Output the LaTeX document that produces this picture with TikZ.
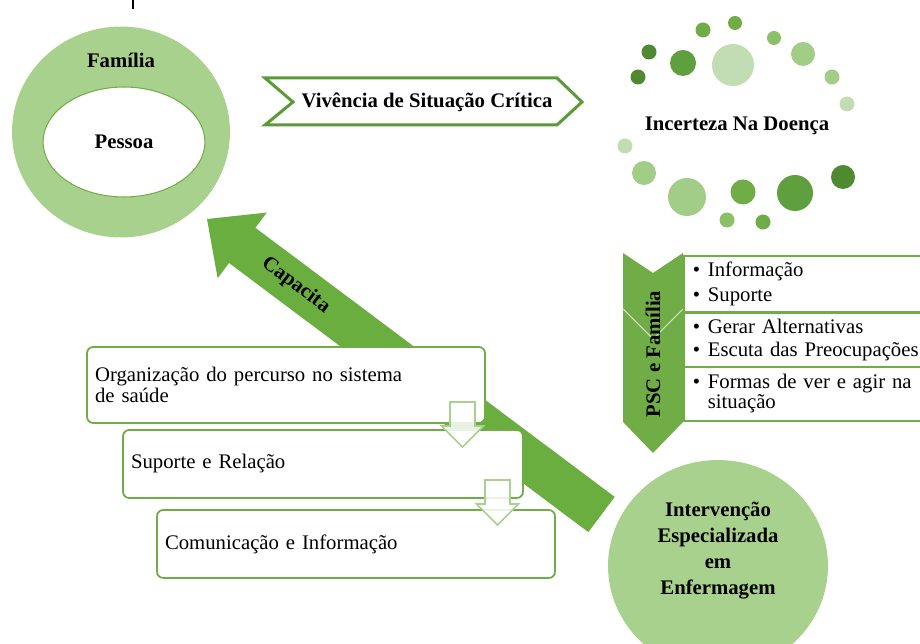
\documentclass[tikz,border=0pt]{standalone}
\usepackage{fontspec}
\setmainfont{Liberation Serif}
\usetikzlibrary{calc,shapes.geometric}

\definecolor{leafmid}{HTML}{70AD47}
\definecolor{leaflight}{HTML}{A9D18E}
\definecolor{chevgreen}{HTML}{5B9A37}
\definecolor{capgreen}{HTML}{6AAE3F}
\definecolor{dotdark}{HTML}{4F8A30}
\definecolor{dotdeep}{HTML}{5F9F3D}
\definecolor{dotmid}{HTML}{70AD47}
\definecolor{dotsoft}{HTML}{8BC069}
\definecolor{dotlight}{HTML}{A2CD87}
\definecolor{dotpale}{HTML}{C2DDB3}

\newcommand{\pscitem}[1]{\makebox[8.6pt][l]{\textbullet}#1}

\tikzset{
  headtxt/.style={font=\fontsize{11.8}{14.8}\selectfont\bfseries, inner sep=0pt},
  bodytxt/.style={font=\fontsize{11.8}{10.4}\selectfont},
  stepbox/.style={draw=leafmid, line width=1pt, fill=white, rounded corners=3.5pt,
    bodytxt, align=left, inner xsep=0.16cm},
  pscbox/.style={draw=leafmid, line width=0.9pt, fill=white, bodytxt, anchor=north west,
    text width=4.6cm, inner xsep=0.18cm, align=left},
  downarr/.pic={
    \draw [draw=leaflight, line width=0.9pt, fill=white, fill opacity=0.85]
      (-12.5,0) -- (12.5,0) -- (12.5,24) -- (21,24) -- (0,45) -- (-21,24) -- (-12.5,24) -- cycle;
  }
}

\begin{document}
\begin{tikzpicture}[x=0.02cm, y=-0.02cm]
    \useasboundingbox (0,0) rectangle (920,644);
    \clip (0,0) rectangle (920,644);
    \draw [line width=0.035cm] (133,0) -- (133,9);

    \node [ellipse, fill=leaflight, minimum width=4.36cm, minimum height=4.22cm] (familia) at (121,132) {};
    \node [ellipse, draw=leafmid, line width=0.6pt, fill=white, minimum width=3.24cm,
      minimum height=2.2cm, headtxt] (pessoa) at (124,142) {Pessoa};
    \node [headtxt] (familialabel) at (121,60) {Família};

    \draw [draw=chevgreen, line width=1.7pt, fill=white] (265,78) -- (557,78) -- (582,102)
      -- (557,125) -- (265,125) -- (293,102) -- cycle;
    \node [headtxt] (vivencia) at (427,102) {Vivência de Situação Crítica};

    \foreach \x/\y/\r/\c in {735/23/7/dotmid, 703/30/7.5/dotmid, 774/38/7/dotsoft,
        649/52/7.5/dotdark, 683/63/13/dotdeep, 733/65/21/dotpale, 803/54/12/dotlight,
        638/77/7.5/dotdark, 832/77/7.5/dotlight, 847/104/7.5/dotpale, 625/146/7.5/dotpale,
        644/173/12/dotlight, 687/197/19/dotlight, 743/192/12.5/dotmid, 795/193/18/dotdeep,
        843/177/12/dotdark, 727/220/7.5/dotsoft, 763/222/7.5/dotmid}
      \fill [\c] (\x,\y) circle (\r);
    \node [headtxt] (incerteza) at (737,126) {Incerteza Na Doença};

    \fill [leafmid] (623,253) -- (653,273) -- (683,253) -- (683,422) -- (653,453) -- (623,422) -- cycle;
    \draw [white, line width=0.6pt, opacity=0.7] (623,309) -- (653,339) -- (683,309);
    \node [headtxt, rotate=90] (psc) at (653,354) {PSC e Família};
    \node [pscbox, minimum height=1.06cm] (infobox) at (683,255)
      {\pscitem{Informação}\\[3.8pt]\pscitem{Suporte}};
    \node [pscbox, minimum height=1.02cm] (gerarbox) at (683,312)
      {\pscitem{Gerar Alternativas}\\[3pt]\pscitem{Escuta das Preocupações}};
    \node [pscbox, minimum height=1.08cm] (formasbox) at (683,366)
      {\pscitem{Formas de ver e agir na}\\\hspace*{8.6pt}situação};

    \coordinate (captail) at (601.5,514.5);
    \coordinate (captip) at (207,219);
    \coordinate (capneck) at ($(captip)!0.88cm!(captail)$);
    \fill [capgreen] ($(captail)!0.44cm!90:(captip)$) -- ($(capneck)!0.44cm!90:(captip)$)
      -- ($(capneck)!0.82cm!90:(captip)$) -- (captip) -- ($(capneck)!0.82cm!-90:(captip)$)
      -- ($(capneck)!0.44cm!-90:(captip)$) -- ($(captail)!0.44cm!-90:(captip)$) -- cycle;
    \node [headtxt, rotate=-36.87] (capacita) at ($(captip)!0.225!(captail)$) {Capacita};

    \node [stepbox, text width=7.64cm, minimum height=1.52cm] (percurso) at (286,385)
      {Organização do percurso no sistema\\de saúde};
    \node [stepbox, text width=7.68cm, minimum height=1.36cm] (suporte) at (323,464) {Suporte e Relação};
    \node [stepbox, text width=7.64cm, minimum height=1.36cm] (comunic) at (356,544) {Comunicação e Informação};
    \pic at (462.5,402) {downarr};
    \pic at (497.5,480) {downarr};

    \node [ellipse, fill=leaflight, minimum width=4.4cm, minimum height=4.24cm] (intervencao) at (718,566) {};
    \node [headtxt, align=center] (intervtxt) at (718,551) {Intervenção\\Especializada\\em\\Enfermagem};
\end{tikzpicture}
\end{document}
